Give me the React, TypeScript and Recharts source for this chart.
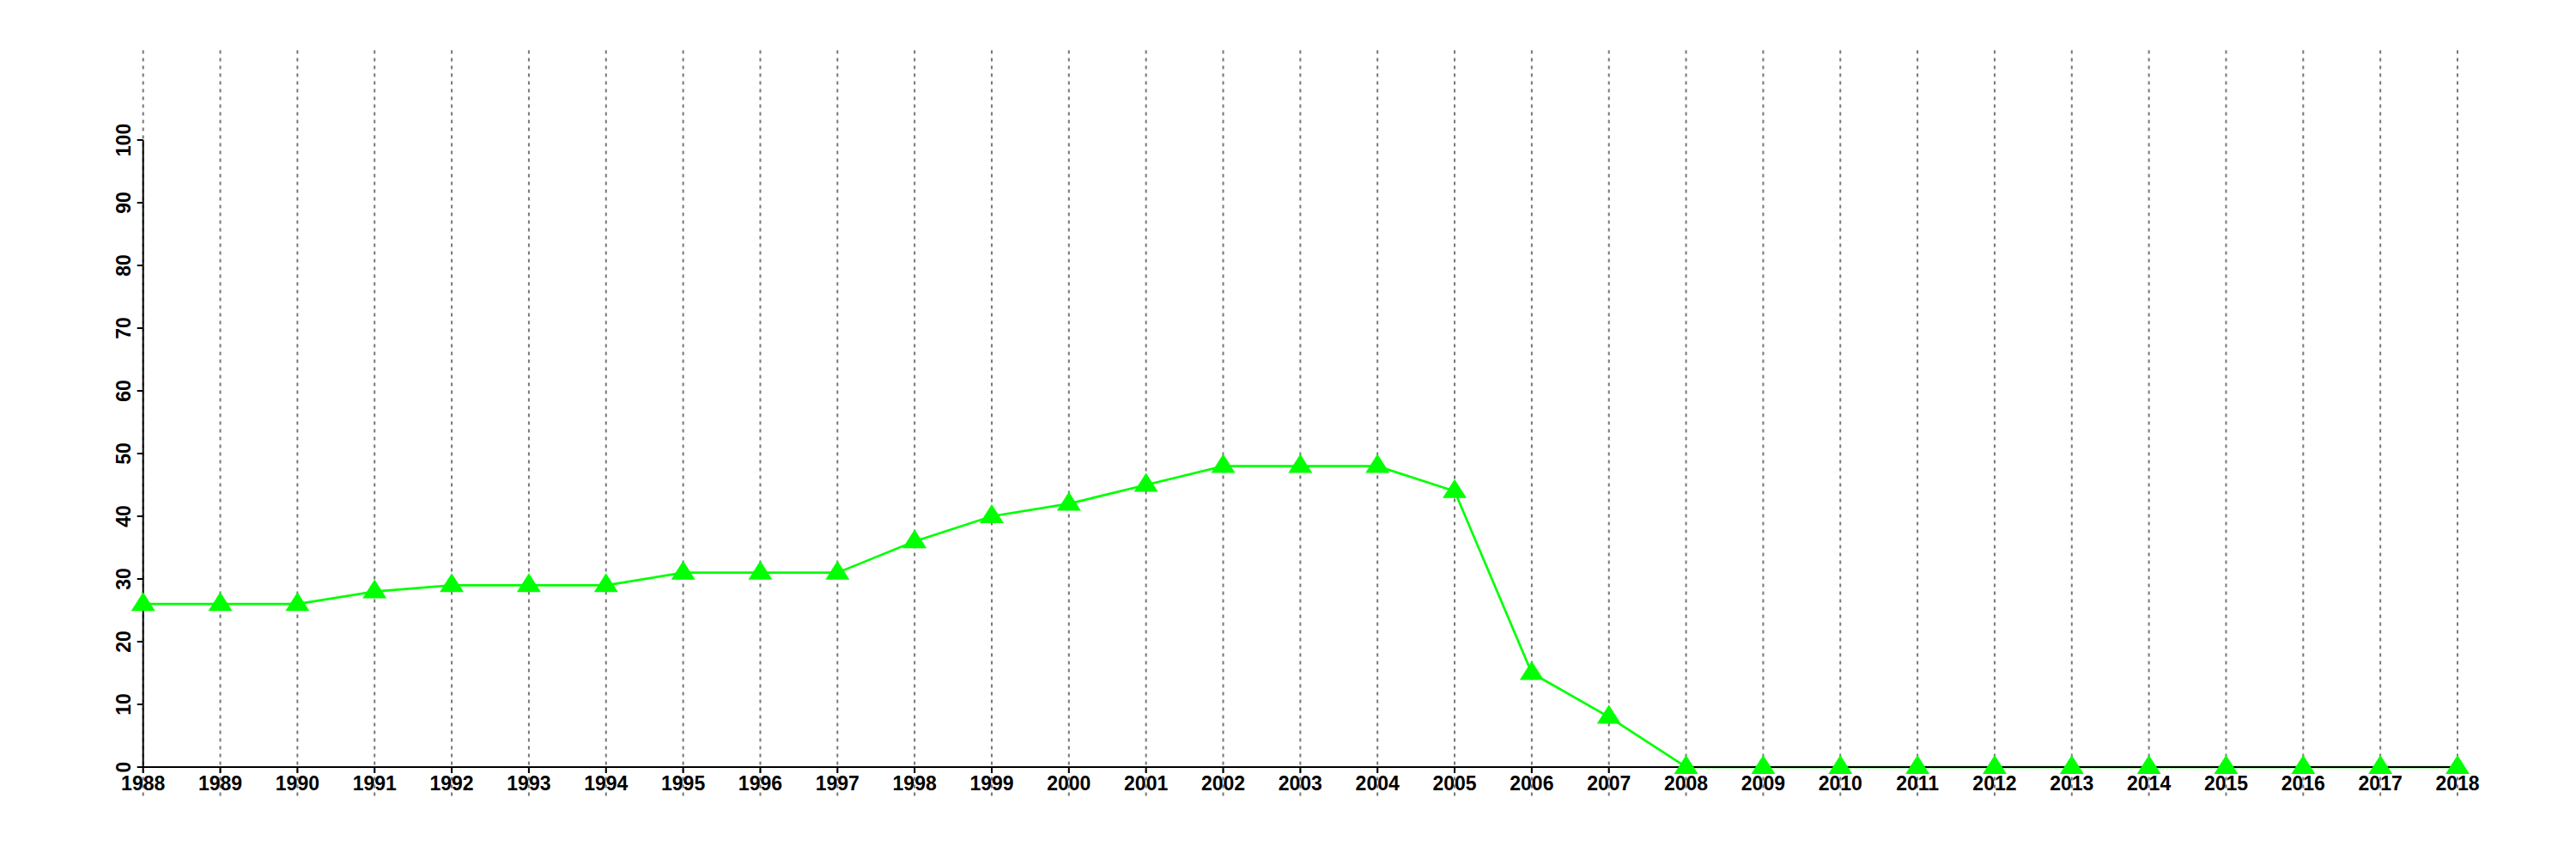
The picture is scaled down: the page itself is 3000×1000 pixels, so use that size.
import React from "react";
import { LineChart, Line, XAxis, YAxis, ReferenceLine } from "recharts";

const years = [
  1988, 1989, 1990, 1991, 1992, 1993, 1994, 1995, 1996, 1997, 1998, 1999, 2000, 2001, 2002, 2003,
  2004, 2005, 2006, 2007, 2008, 2009, 2010, 2011, 2012, 2013, 2014, 2015, 2016, 2017, 2018,
];
const values = [
  26, 26, 26, 28, 29, 29, 29, 31, 31, 31, 36, 40, 42, 45, 48, 48, 48, 44, 15, 8, 0, 0, 0, 0, 0, 0,
  0, 0, 0, 0, 0,
];
const yTicks = [0, 10, 20, 30, 40, 50, 60, 70, 80, 90, 100];

const data = years.map((year, i) => ({ year, value: values[i] }));

const FONT = "'Liberation Sans', Arial, Helvetica, sans-serif";

function Triangle(props: any) {
  const { cx, cy } = props;
  if (cx == null || cy == null) return null;
  return (
    <polygon
      points={`${cx},${cy - 14} ${cx - 14},${cy + 8} ${cx + 14},${cy + 8}`}
      fill="#00ff00"
    />
  );
}

function XTick({ x, y, payload }: any) {
  return (
    <text x={x} y={y + 20} textAnchor="middle" fontFamily={FONT} fontWeight="bold" fontSize={23} fill="#000">
      {payload.value}
    </text>
  );
}

function YTick({ x, y, payload }: any) {
  return (
    <text
      x={x - 8}
      y={y}
      transform={`rotate(-90, ${x - 8}, ${y})`}
      textAnchor="middle"
      fontFamily={FONT}
      fontWeight="bold"
      fontSize={23}
      fill="#000"
    >
      {payload.value}
    </text>
  );
}

export default function App() {
  return (
    <div style={{ width: 2990, height: 990, background: "#fff" }}>
      <LineChart width={2990} height={990} data={data} margin={{ top: 155, right: 136, left: 100, bottom: 65 }}>
        {years.map((yr) => (
          <ReferenceLine
            key={yr}
            segment={[
              { x: yr, y: -4.6 },
              { x: yr, y: 114.3 },
            ]}
            ifOverflow="visible"
            stroke="#777"
            strokeWidth={2}
            strokeDasharray="4 5"
          />
        ))}
        <Line
          type="linear"
          dataKey="value"
          stroke="#00ff00"
          strokeWidth={2.7}
          dot={<Triangle />}
          activeDot={false}
          isAnimationActive={false}
        />
        <XAxis
          dataKey="year"
          type="number"
          domain={[1988, 2018]}
          ticks={years}
          interval={0}
          tickSize={7}
          tickMargin={0}
          height={40}
          axisLine={{ stroke: "#000", strokeWidth: 2 }}
          tickLine={{ stroke: "#000", strokeWidth: 2 }}
          tick={<XTick />}
        />
        <YAxis
          type="number"
          domain={[0, 100]}
          ticks={yTicks}
          interval={0}
          width={58.7}
          tickSize={7}
          tickMargin={0}
          axisLine={{ stroke: "#000", strokeWidth: 2 }}
          tickLine={{ stroke: "#000", strokeWidth: 2 }}
          tick={<YTick />}
        />
      </LineChart>
    </div>
  );
}
